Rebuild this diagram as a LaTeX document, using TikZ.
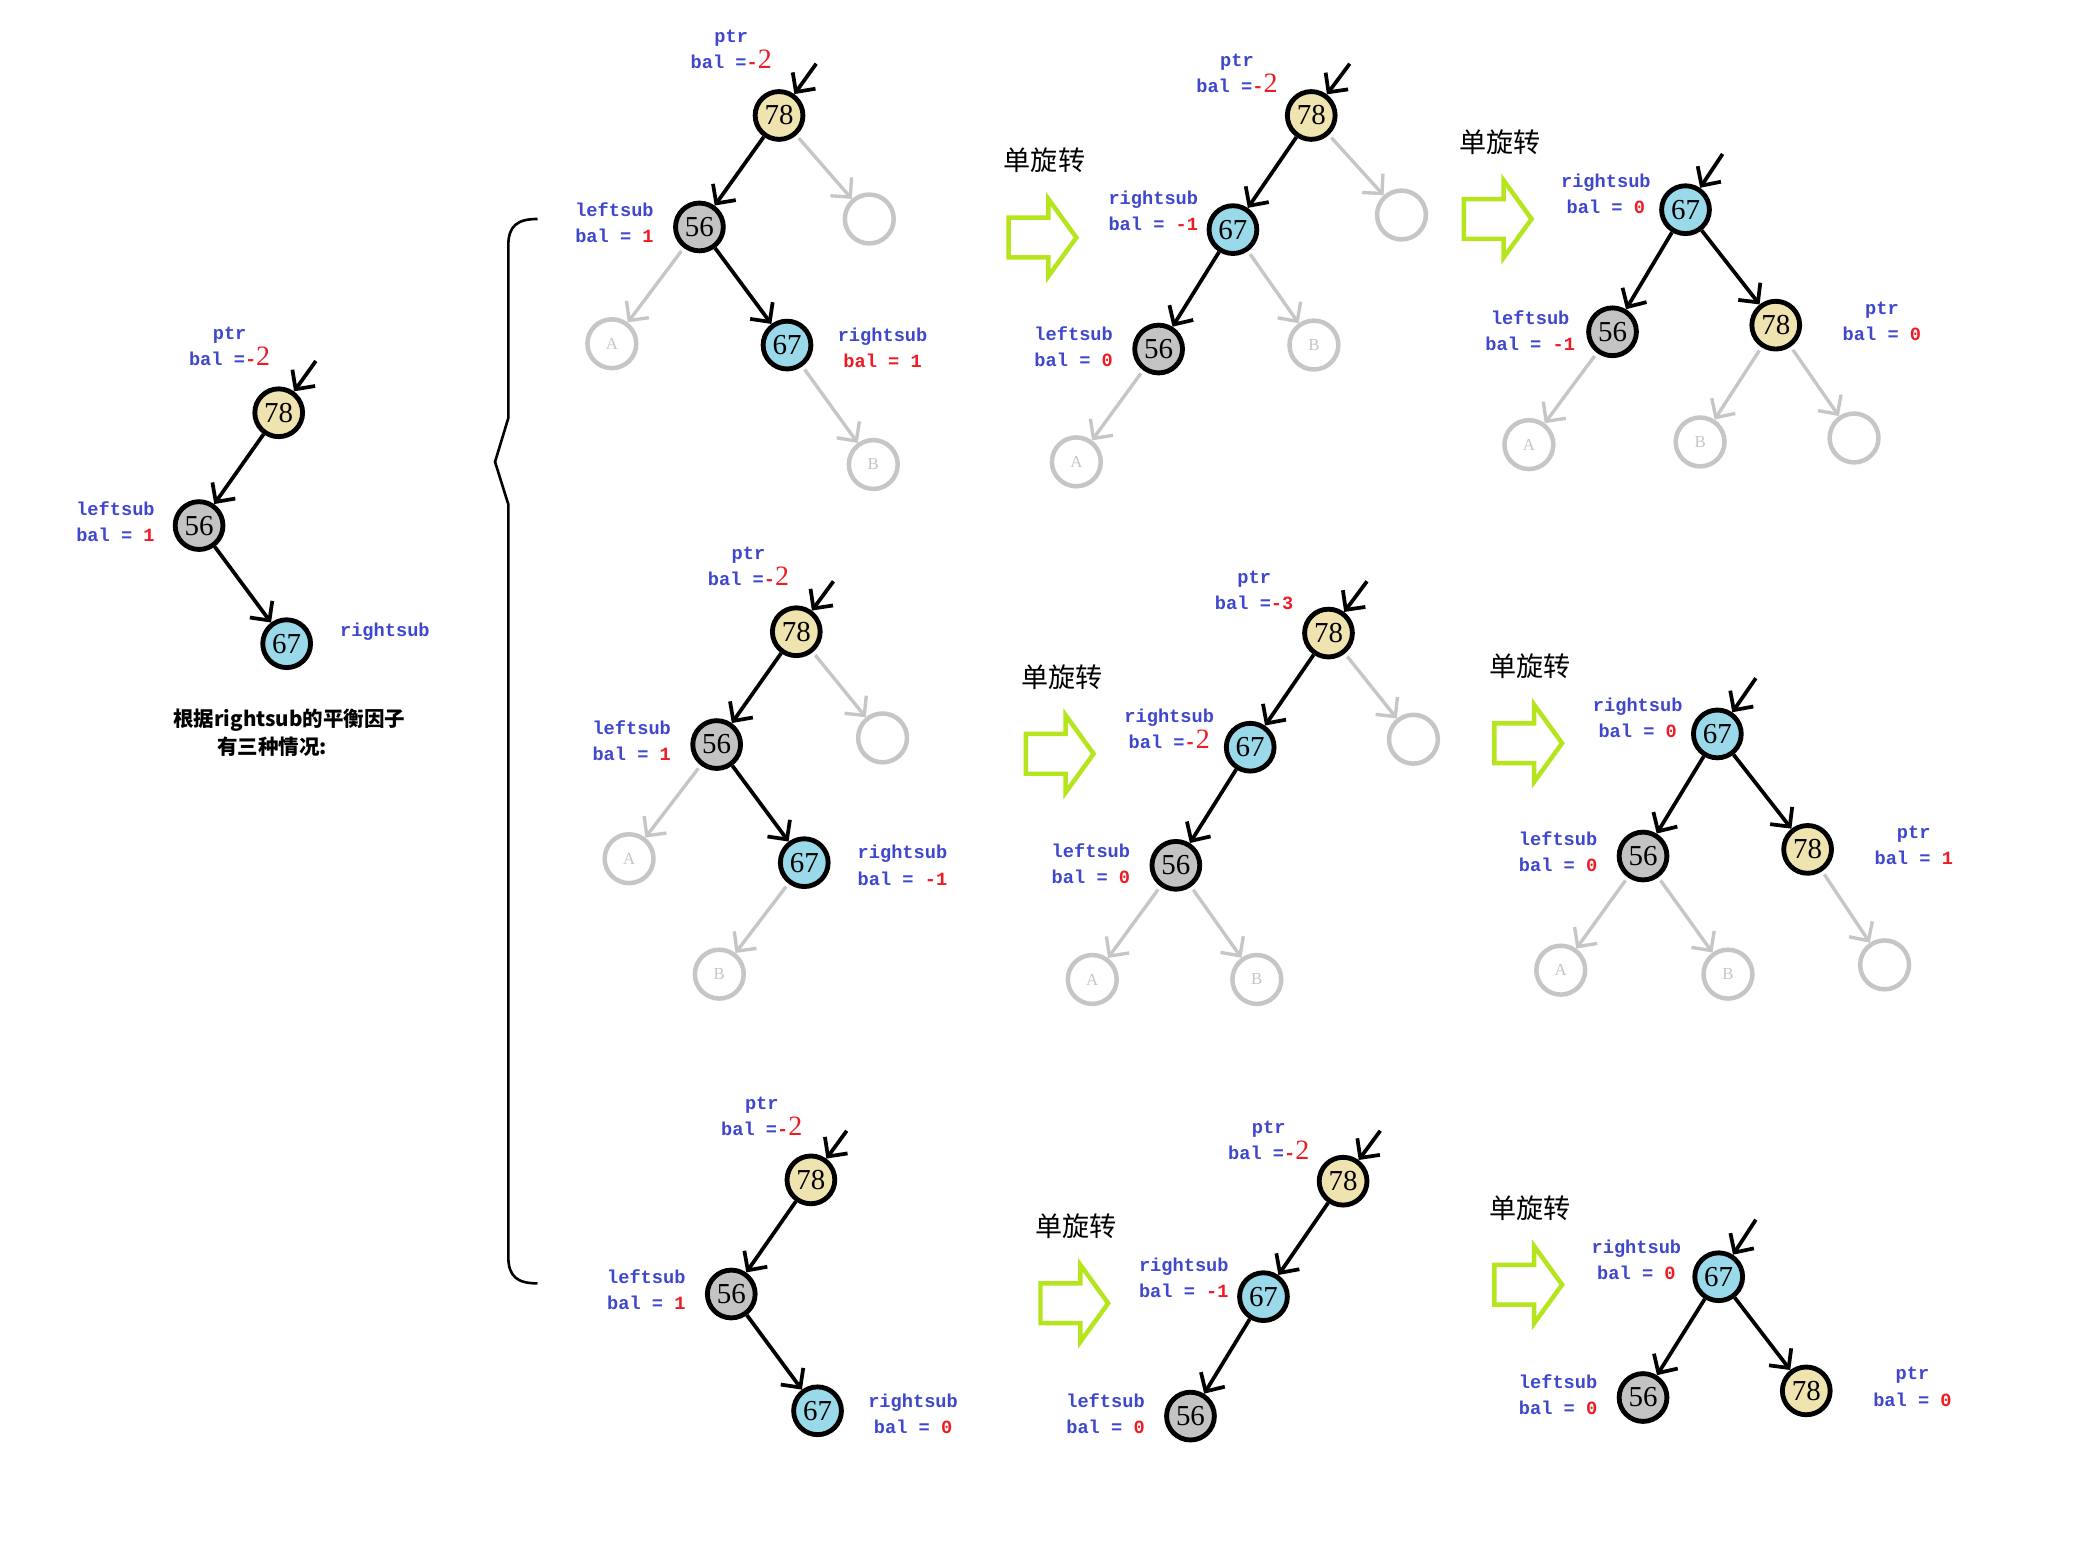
\documentclass[tikz,border=0pt]{standalone}
\usepackage{fontspec}
\setmainfont{Liberation Serif}
\setmonofont{Liberation Mono}
\newfontfamily\cjk{Noto Sans CJK SC}
\usetikzlibrary{arrows.meta}
\definecolor{keyyellow}{RGB}{239,228,176}
\definecolor{keygray}{RGB}{195,195,195}
\definecolor{keyblue}{RGB}{153,217,234}
\definecolor{ghostgray}{RGB}{198,198,198}
\definecolor{lblblue}{RGB}{63,72,204}
\definecolor{lblred}{RGB}{237,28,36}
\definecolor{turnlime}{RGB}{181,230,29}
\newcommand{\rv}[1]{\textcolor{lblred}{#1}}
\newcommand{\bv}[1]{{\rmfamily\mdseries\fontsize{15}{15}\selectfont #1}}

\begin{document}
\begin{tikzpicture}[x=0.025cm,y=-0.025cm,>={Straight Barb[length=7.5pt,width=15pt]},
  key/.style={circle,draw,line width=2.6pt,minimum size=0.9cm,inner sep=0pt,font=\rmfamily\fontsize{15.5}{15.5}\selectfont},
  k78/.style={key,fill=keyyellow},k56/.style={key,fill=keygray},k67/.style={key,fill=keyblue},
  leaf/.style={circle,draw=ghostgray,line width=2.4pt,minimum size=0.92cm,inner sep=0pt,text=ghostgray,font=\rmfamily\fontsize{9}{9}\selectfont},
  lbl/.style={align=center,text=lblblue,font=\ttfamily\bfseries\fontsize{10}{14}\selectfont},
  edge/.style={->,line width=2pt},
  ghost/.style={->,line width=1.8pt,draw=ghostgray,shorten <=2pt},
  tag/.style={font=\cjk\fontsize{14.5}{16}\selectfont},
  turn/.pic={\draw[turnlime,line width=2.4pt] (-25,-15)--(5,-15)--(5,-29)--(26,0)--(5,29)--(5,15)--(-25,15)--cycle;}]
\fill[white] (0,0) rectangle (1568,1178);
\useasboundingbox (0,0) rectangle (1568,1178);
% left: the tree before balancing
\node[k78] (t78) at (210,311) {78};
\node[k56] (t56) at (150,396) {56};
\node[k67] (t67) at (216,485) {67};
\coordinate (tin) at (238,272);
\foreach \u/\v in {tin/t78,t78/t56,t56/t67} \draw[edge] (\u)--(\v);
\node[lbl] (tptr) at (173,261) {ptr\\bal =\rv{-\bv{2}}};
\node[lbl] (tleft) at (87,393) {leftsub\\bal = \rv{1}};
\node[lbl] (tright) at (290,476) {rightsub};
\node[font=\cjk\bfseries\fontsize{11}{13}\selectfont] (cap1) at (218,543) {根据rightsub的平衡因子};
\node[font=\cjk\bfseries\fontsize{11}{13}\selectfont] (cap2) at (205,563) {有三种情况:};
\draw[line width=1.4pt] (405,165) .. controls (390,165) and (383,170) .. (383,185) -- (383,315)
  -- (373,348) -- (383,380) -- (383,947) .. controls (383,962) and (390,967) .. (405,967);
% rotations
\foreach \n/\x/\y in {1/785/179,2/1128/165,3/798/568,4/1151/560,5/809/982,6/1151/968}{
  \pic at (\x,\y) {turn};
  \node[tag] (rot\n) at (\x+2,\y-58) {单旋转};
}
% row 1
\node[k78] (a78) at (587,87) {78};
\node[k56] (a56) at (527,171) {56};
\node[k67] (a67) at (593,260) {67};
\node[leaf] (aE) at (655,165) {};
\node[leaf] (aA) at (461,259) {A};
\node[leaf] (aB) at (658,350) {B};
\coordinate (ain) at (615,48);
\foreach \u/\v in {ain/a78,a78/a56,a56/a67} \draw[edge] (\u)--(\v);
\foreach \u/\v in {a78/aE,a56/aA,a67/aB} \draw[ghost] (\u)--(\v);
\node[lbl] (aptr) at (551,37) {ptr\\bal =\rv{-\bv{2}}};
\node[lbl] (aleft) at (463,168) {leftsub\\bal = \rv{1}};
\node[lbl] (aright) at (665,262) {rightsub\\\rv{bal = 1}};

\node[k78] (b78) at (988,87) {78};
\node[k67] (b67) at (929,173) {67};
\node[k56] (b56) at (873,263) {56};
\node[leaf] (bE) at (1056,162) {};
\node[leaf] (bB) at (990,260) {B};
\node[leaf] (bA) at (811,348) {A};
\coordinate (bin) at (1017,48);
\foreach \u/\v in {bin/b78,b78/b67,b67/b56} \draw[edge] (\u)--(\v);
\foreach \u/\v in {b78/bE,b67/bB,b56/bA} \draw[ghost] (\u)--(\v);
\node[lbl] (bptr) at (932,55) {ptr\\bal =\rv{-\bv{2}}};
\node[lbl] (bright) at (869,159) {rightsub\\bal = \rv{-1}};
\node[lbl] (bleft) at (809,261) {leftsub\\bal = \rv{0}};

\node[k67] (c67) at (1270,158) {67};
\node[k56] (c56) at (1215,250) {56};
\node[k78] (c78) at (1338,245) {78};
\node[leaf] (cA) at (1152,335) {A};
\node[leaf] (cB) at (1281,333) {B};
\node[leaf] (cE) at (1397,330) {};
\coordinate (cin) at (1298,116);
\foreach \u/\v in {cin/c67,c67/c56,c67/c78} \draw[edge] (\u)--(\v);
\foreach \u/\v in {c56/cA,c78/cB,c78/cE} \draw[ghost] (\u)--(\v);
\node[lbl] (cright) at (1210,146) {rightsub\\bal = \rv{0}};
\node[lbl] (cleft) at (1153,249) {leftsub\\bal = \rv{-1}};
\node[lbl] (cptr) at (1418,242) {ptr\\bal = \rv{0}};
% row 2
\node[k78] (d78) at (600,476) {78};
\node[k56] (d56) at (540,561) {56};
\node[k67] (d67) at (606,650) {67};
\node[leaf] (dE) at (665,556) {};
\node[leaf] (dA) at (474,647) {A};
\node[leaf] (dB) at (542,734) {B};
\coordinate (din) at (628,438);
\foreach \u/\v in {din/d78,d78/d56,d56/d67} \draw[edge] (\u)--(\v);
\foreach \u/\v in {d78/dE,d56/dA,d67/dB} \draw[ghost] (\u)--(\v);
\node[lbl] (dptr) at (564,427) {ptr\\bal =\rv{-\bv{2}}};
\node[lbl] (dleft) at (476,558) {leftsub\\bal = \rv{1}};
\node[lbl] (dright) at (680,652) {rightsub\\bal = \rv{-1}};

\node[k78] (e78) at (1001,477) {78};
\node[k67] (e67) at (942,563) {67};
\node[k56] (e56) at (886,652) {56};
\node[leaf] (eE) at (1065,557) {};
\node[leaf] (eA) at (823,738) {A};
\node[leaf] (eB) at (947,738) {B};
\coordinate (ein) at (1030,438);
\foreach \u/\v in {ein/e78,e78/e67,e67/e56} \draw[edge] (\u)--(\v);
\foreach \u/\v in {e78/eE,e56/eA,e56/eB} \draw[ghost] (\u)--(\v);
\node[lbl] (eptr) at (945,445) {ptr\\bal =\rv{-3}};
\node[lbl] (eright) at (881,549) {rightsub\\bal =\rv{-\bv{2}}};
\node[lbl] (eleft) at (822,651) {leftsub\\bal = \rv{0}};

\node[k67] (f67) at (1294,553) {67};
\node[k56] (f56) at (1238,645) {56};
\node[k78] (f78) at (1362,640) {78};
\node[leaf] (fA) at (1176,731) {A};
\node[leaf] (fB) at (1302,734) {B};
\node[leaf] (fE) at (1420,727) {};
\coordinate (fin) at (1323,511);
\foreach \u/\v in {fin/f67,f67/f56,f67/f78} \draw[edge] (\u)--(\v);
\foreach \u/\v in {f56/fA,f56/fB,f78/fE} \draw[ghost] (\u)--(\v);
\node[lbl] (fright) at (1234,541) {rightsub\\bal = \rv{0}};
\node[lbl] (fleft) at (1174,642) {leftsub\\bal = \rv{0}};
\node[lbl] (fptr) at (1442,637) {ptr\\bal = \rv{1}};
% row 3
\node[k78] (g78) at (611,889) {78};
\node[k56] (g56) at (551,975) {56};
\node[k67] (g67) at (616,1063) {67};
\coordinate (gin) at (638,852);
\foreach \u/\v in {gin/g78,g78/g56,g56/g67} \draw[edge] (\u)--(\v);
\node[lbl] (gptr) at (574,841) {ptr\\bal =\rv{-\bv{2}}};
\node[lbl] (gleft) at (487,972) {leftsub\\bal = \rv{1}};
\node[lbl] (gright) at (688,1065) {rightsub\\bal = \rv{0}};

\node[k78] (h78) at (1012,890) {78};
\node[k67] (h67) at (952,977) {67};
\node[k56] (h56) at (897,1067) {56};
\coordinate (hin) at (1040,852);
\foreach \u/\v in {hin/h78,h78/h67,h67/h56} \draw[edge] (\u)--(\v);
\node[lbl] (hptr) at (956,859) {ptr\\bal =\rv{-\bv{2}}};
\node[lbl] (hright) at (892,963) {rightsub\\bal = \rv{-1}};
\node[lbl] (hleft) at (833,1065) {leftsub\\bal = \rv{0}};

\node[k67] (i67) at (1295,962) {67};
\node[k56] (i56) at (1238,1053) {56};
\node[k78] (i78) at (1361,1048) {78};
\coordinate (iin) at (1323,919);
\foreach \u/\v in {iin/i67,i67/i56,i67/i78} \draw[edge] (\u)--(\v);
\node[lbl] (iright) at (1233,949) {rightsub\\bal = \rv{0}};
\node[lbl] (ileft) at (1174,1051) {leftsub\\bal = \rv{0}};
\node[lbl] (iptr) at (1441,1045) {ptr\\bal = \rv{0}};
\end{tikzpicture}
\end{document}
